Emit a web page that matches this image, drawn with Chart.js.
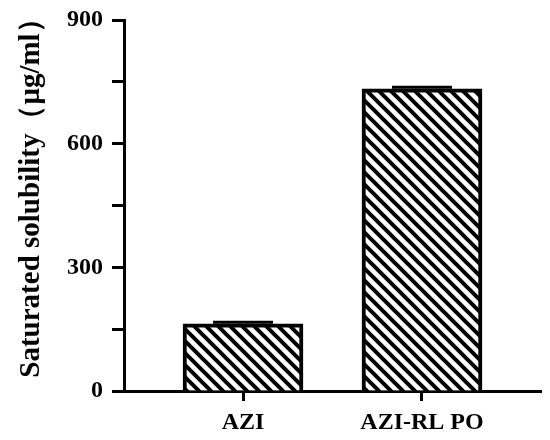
<!DOCTYPE html>
<html>
<head>
<meta charset="utf-8">
<script src="https://cdn.jsdelivr.net/npm/chart.js@4.4.1/dist/chart.umd.min.js"></script>
<style>
  body { margin: 0; background: #fff; }
  #wrap { width: 550px; height: 440px; }
</style>
</head>
<body>
<div id="wrap"><canvas id="chart"></canvas></div>
<script>
// Data
const categories = ['AZI', 'AZI-RL PO'];
const solubility = [163, 733];
const solubilityErr = [4, 4];
const yMajorTicks = [0, 300, 600, 900];

const serif = "'Liberation Serif', 'Times New Roman', serif";

// diagonal hatch (\\\) used as bar fill
function makeHatch() {
  const p = document.createElement('canvas');
  p.width = 12; p.height = 12;
  const g = p.getContext('2d');
  g.fillStyle = '#fff';
  g.fillRect(0, 0, 12, 12);
  g.strokeStyle = '#000';
  g.lineWidth = 4;
  g.beginPath();
  g.moveTo(-3, -3); g.lineTo(15, 15);
  g.moveTo(-3, 9); g.lineTo(3, 15);
  g.moveTo(9, -3); g.lineTo(15, 3);
  g.stroke();
  return g.createPattern(p, 'repeat');
}

// draws the small error caps on top of each bar
const errorCaps = {
  id: 'errorCaps',
  afterDatasetsDraw(chart) {
    const { ctx, scales: { x, y } } = chart;
    ctx.save();
    ctx.strokeStyle = '#000';
    ctx.lineWidth = 3;
    solubility.forEach((v, i) => {
      const px = x.getPixelForValue(i + 1);
      const top = y.getPixelForValue(v + solubilityErr[i]);
      const base = y.getPixelForValue(v);
      ctx.beginPath();
      ctx.moveTo(px, base);
      ctx.lineTo(px, top);
      ctx.moveTo(px - 30, top);
      ctx.lineTo(px + 30, top);
      ctx.stroke();
    });
    ctx.restore();
  }
};

const ctx = document.getElementById('chart').getContext('2d');
new Chart(ctx, {
  type: 'bar',
  data: {
    datasets: [{
      data: solubility.map((v, i) => ({ x: i + 1, y: v })),
      backgroundColor: makeHatch(),
      borderColor: '#000',
      borderWidth: 4,
      barThickness: 120
    }]
  },
  options: {
    responsive: true,
    maintainAspectRatio: false,
    animation: false,
    layout: { padding: { top: 20, right: 9, left: 0, bottom: 0 } },
    plugins: { legend: { display: false }, tooltip: { enabled: false } },
    scales: {
      x: {
        type: 'linear',
        offset: false,
        min: 0.335,
        max: 2.665,
        afterBuildTicks: axis => { axis.ticks = categories.map((c, i) => ({ value: i + 1 })); },
        afterFit: axis => { axis.height = 49; axis.paddingLeft = 0; axis.paddingRight = 0; },
        ticks: {
          callback: v => categories[v - 1],
          color: '#000',
          font: { family: serif, size: 24, weight: 'bold' },
          padding: 7,
          maxRotation: 0,
          autoSkip: false
        },
        grid: { offset: false, drawOnChartArea: false, color: '#000', tickLength: 10, tickWidth: 3 },
        border: { color: '#000', width: 3 }
      },
      y: {
        min: 0,
        max: 900,
        afterFit: axis => { axis.width = 124; axis.paddingTop = 0; axis.paddingBottom = 0; },
        ticks: {
          stepSize: 150,
          callback: v => (yMajorTicks.includes(v) ? v : ''),
          color: '#000',
          font: { family: serif, size: 24, weight: 'bold' },
          padding: 9
        },
        grid: { drawOnChartArea: false, color: '#000', tickLength: 12, tickWidth: 3 },
        border: { color: '#000', width: 3 },
        title: {
          display: true,
          text: '\u2003Saturated solubility（μg/ml）',
          color: '#000',
          font: { family: serif, size: 29, weight: 'bold' },
          padding: { top: 14, bottom: 4 }
        }
      }
    }
  },
  plugins: [errorCaps]
});
</script>
</body>
</html>
